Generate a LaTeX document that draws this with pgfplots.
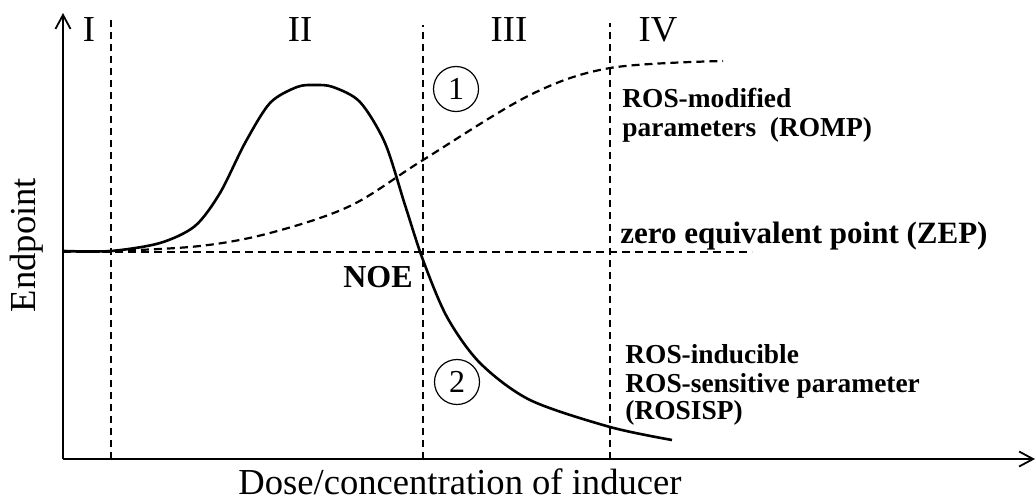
\documentclass[border=0pt]{standalone}
\usepackage{fontspec}
\setmainfont{Liberation Serif}
\usepackage{pgfplots}
\pgfplotsset{compat=1.18}
\usetikzlibrary{arrows.meta}
\begin{document}
\begin{tikzpicture}
\useasboundingbox (-31.5pt,-20.5pt) rectangle (486.5pt,229.5pt);
\begin{axis}[
  at={(0,0)}, anchor=south west,
  scale only axis, width=486pt, height=223pt,
  xmin=63, xmax=1035, ymin=41, ymax=487,
  axis lines=left,
  axis line style={line width=1.1pt, -{Straight Barb[length=7pt,width=7.5pt,line width=0.9pt]}},
  xtick=\empty, ytick=\empty,
  clip=false,
]
% vertical dashed separators
\addplot[black, line width=1pt, dash pattern=on 3.5pt off 2.5pt] coordinates {(111,41) (111,480)};
\addplot[black, line width=1pt, dash pattern=on 3.5pt off 2.5pt] coordinates {(423,41) (423,475)};
\addplot[black, line width=1pt, dash pattern=on 3.5pt off 2.5pt] coordinates {(610,41) (610,477)};
% zero equivalent line
\addplot[black, line width=1pt, dash pattern=on 4pt off 2.5pt] coordinates {(63,248) (752,248)};
% ROMP dashed sigmoid
\addplot[black, line width=1.1pt, dash pattern=on 4pt off 2.5pt, smooth, tension=0.55] coordinates {
(63,249) (111,249) (200,254) (270,267) (350,294) (423,340) (530,405) (610,432) (723,439)};
% ROSISP solid curve
\addplot[black, line width=1.3pt, smooth, tension=0.5] coordinates {
(63,249) (111,249) (160,257) (195,274) (220,307) (245,357) (270,397) (297,413) (315,415)
(333,413) (360,398) (385,357) (405,295) (423,240) (447,183) (480,137) (530,100) (610,73) (672,60)};
% region labels
\node[font=\fontsize{18.3}{20}\selectfont] at (axis cs:89,470) {I};
\node[font=\fontsize{18.3}{20}\selectfont] at (axis cs:300,470) {II};
\node[font=\fontsize{18.3}{20}\selectfont] at (axis cs:509,470) {III};
\node[font=\fontsize{18.3}{20}\selectfont] at (axis cs:658,470) {IV};
% circled numbers
\node[circle, draw, line width=0.6pt, minimum size=22.5pt, inner sep=0pt, font=\fontsize{16}{16}\selectfont] at (axis cs:456,411) {1};
\node[circle, draw, line width=0.6pt, minimum size=22.5pt, inner sep=0pt, font=\fontsize{16}{16}\selectfont] at (axis cs:457,118) {2};
% annotations
\node[anchor=base west, inner sep=0pt, font=\bfseries\fontsize{13.7}{14.5}\selectfont] at (axis cs:622,393) {ROS-modified};
\node[anchor=base west, inner sep=0pt, font=\bfseries\fontsize{13.7}{14.5}\selectfont] at (axis cs:622,364) {parameters\ \ (ROMP)};
\node[anchor=base west, inner sep=0pt, font=\bfseries\fontsize{15.5}{16}\selectfont] at (axis cs:620,257) {zero equivalent point (ZEP)};
\node[anchor=base east, inner sep=0pt, font=\bfseries\fontsize{16}{16}\selectfont] at (axis cs:413,213) {NOE};
\node[anchor=base west, inner sep=0pt, font=\bfseries\fontsize{13.7}{14.5}\selectfont] at (axis cs:625,137) {ROS-inducible};
\node[anchor=base west, inner sep=0pt, font=\bfseries\fontsize{13.7}{14.5}\selectfont] at (axis cs:625,108) {ROS-sensitive parameter};
\node[anchor=base west, inner sep=0pt, font=\bfseries\fontsize{13.7}{14.5}\selectfont] at (axis cs:625,81) {(ROSISP)};
% axis labels
\node[rotate=90, inner sep=0pt, font=\fontsize{18.3}{20}\selectfont] at (axis cs:27,255) {Endpoint};
\node[anchor=base, inner sep=0pt, font=\fontsize{18.3}{20}\selectfont] at (axis cs:460,6) {Dose/concentration of inducer};
\end{axis}
\end{tikzpicture}
\end{document}
